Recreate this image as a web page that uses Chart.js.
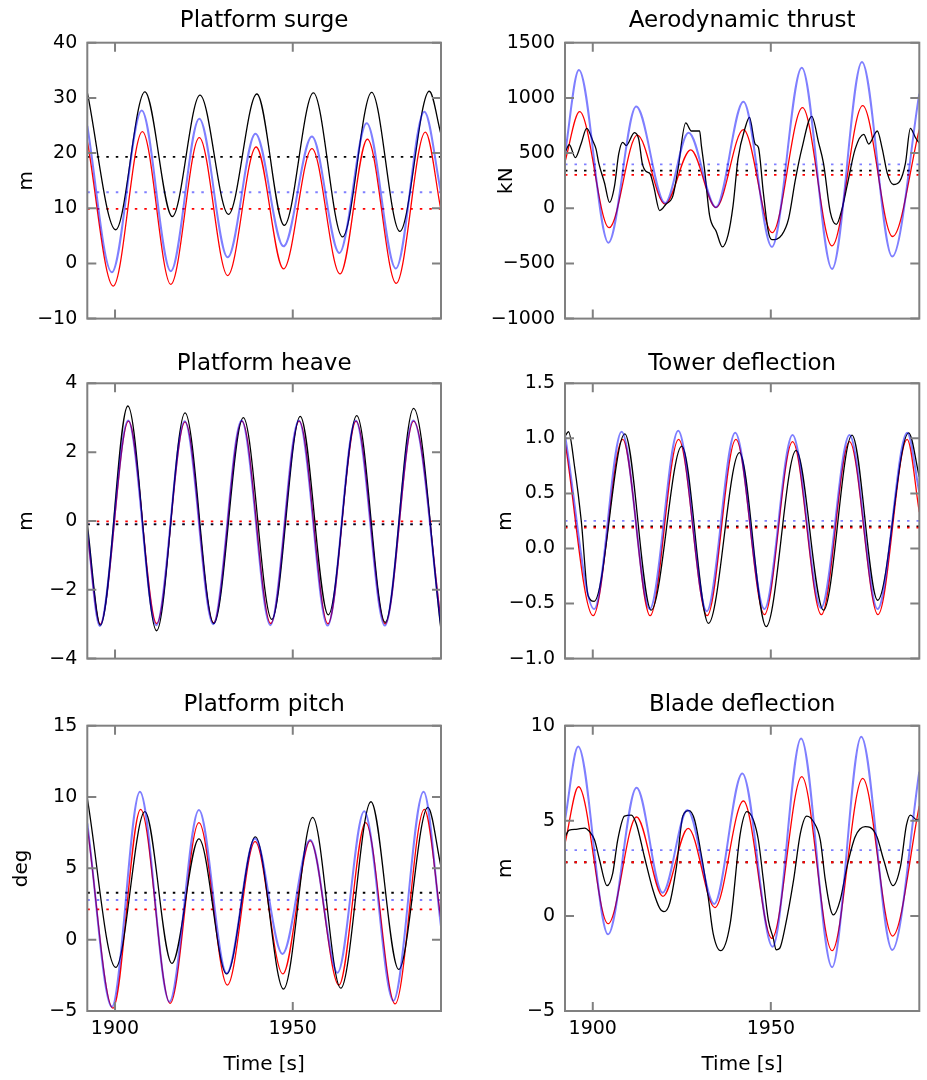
<!DOCTYPE html>
<html>
<head>
<meta charset="utf-8">
<script src="https://cdn.jsdelivr.net/npm/chart.js@4/dist/chart.umd.min.js"></script>
<style>
  body { margin: 0; background: #fff; }
  canvas { position: absolute; }
</style>
</head>
<body>
<script>
// time axis
const xMin = 1892.2, xMax = 1991.7;
const xTicks = [1900, 1950];

// Platform surge [m]
const surgeTicks = [-10, 0, 10, 20, 30, 40];
const surgeBlack = [[1892.2, 31.0], [1900.2, 6.1], [1908.4, 31.1], [1916.1, 8.5], [1923.9, 30.5], [1931.9, 8.9], [1939.9, 30.7], [1947.6, 6.9], [1955.8, 30.9], [1964.0, 4.8], [1972.2, 31.0], [1980.1, 5.8], [1988.4, 31.2], [1991.7, 23.4]];
const surgeRed = [[1892.2, 22.2], [1899.5, -4.1], [1907.7, 23.9], [1915.7, -3.8], [1923.7, 22.8], [1931.7, -2.2], [1939.7, 21.1], [1947.4, -1.0], [1955.4, 20.8], [1963.3, -1.9], [1971.0, 22.5], [1979.1, -3.6], [1987.3, 23.8], [1991.7, 9.6]];
const surgeBlue = [[1892.2, 24.9], [1899.1, -1.6], [1907.5, 27.7], [1915.7, -1.4], [1923.7, 26.2], [1931.7, 1.1], [1939.5, 23.5], [1947.4, 3.1], [1955.4, 23.0], [1963.1, 1.9], [1970.8, 25.4], [1979.0, -0.9], [1987.0, 27.5], [1991.7, 12.8]];
const surgeMeans = [19.3, 9.9, 12.9]; // black, red, blue

// Aerodynamic thrust [kN]
const thrustTicks = [-1000, -500, 0, 500, 1000, 1500];
const thrustBlack = [[1892.2, 500], [1893.4, 576], [1895.1, 459], [1896.7, 582], [1898.3, 723], [1900.0, 612], [1900.9, 538], [1901.7, 406], [1903.3, 229], [1904.7, 53], [1906.1, 200], [1907.3, 494], [1908.4, 597], [1909.4, 568], [1911.7, 685], [1912.9, 626], [1913.9, 406], [1915.0, 332], [1916.1, 312], [1917.1, 200], [1918.8, -21], [1920.6, 38], [1922.5, 112], [1923.9, 347], [1926.1, 773], [1927.7, 700], [1930.0, 700], [1930.5, 568], [1931.4, 347], [1932.8, -65], [1934.7, -212], [1936.4, -350], [1938.0, -241], [1939.4, 24], [1940.8, 450], [1942.8, 729], [1944.0, 823], [1945.6, 582], [1946.5, 553], [1947.9, 141], [1949.3, -212], [1950.3, -285], [1953.1, -241], [1955.0, -94], [1956.9, 259], [1958.7, 538], [1961.5, 832], [1963.4, 597], [1964.8, 406], [1966.7, -35], [1968.4, -147], [1970.0, -6], [1971.4, 200], [1973.7, 538], [1976.1, 670], [1977.5, 582], [1979.9, 700], [1981.3, 538], [1982.7, 318], [1984.4, 215], [1986.2, 244], [1987.8, 406], [1989.2, 723], [1990.6, 641], [1991.7, 590]];
const thrustRed = [[1892.2, 421], [1896.3, 876], [1904.6, -176], [1912.5, 662], [1920.3, 38], [1927.5, 529], [1934.6, 6], [1942.3, 712], [1950.4, -221], [1958.9, 912], [1967.2, -341], [1975.8, 929], [1984.2, -256], [1991.7, 715]];
const thrustBlue = [[1892.2, 494], [1896.1, 1253], [1904.4, -312], [1912.2, 921], [1920.3, 47], [1926.9, 685], [1934.6, 9], [1942.3, 965], [1950.3, -350], [1958.7, 1274], [1967.2, -550], [1975.6, 1324], [1984.1, -438], [1991.7, 1038]];
const thrustMeans = [340, 303, 397];

// Platform heave [m]
const heaveTicks = [-4, -2, 0, 2, 4];
const heaveBlack = [[1892.2, -0.1], [1895.9, -3.03], [1903.6, 3.34], [1911.7, -3.19], [1919.7, 3.14], [1927.8, -2.98], [1936.1, 3.0], [1944.1, -2.86], [1952.1, 3.04], [1960.0, -2.73], [1968.0, 3.06], [1976.0, -2.95], [1984.0, 3.27], [1991.7, -3.17]];
const heaveRed = [[1892.2, -0.36], [1895.8, -3.0], [1903.8, 2.9], [1911.7, -2.98], [1919.7, 2.88], [1927.7, -2.96], [1935.7, 2.9], [1943.8, -2.98], [1951.8, 2.9], [1959.9, -2.99], [1967.8, 2.9], [1976.0, -2.99], [1984.0, 2.9], [1991.7, -2.9]];
const heaveBlue = [[1892.2, -0.3], [1895.7, -3.05], [1903.7, 2.92], [1911.6, -3.03], [1919.6, 2.9], [1927.6, -3.0], [1935.6, 2.92], [1943.7, -3.03], [1951.7, 2.92], [1959.8, -3.04], [1967.7, 2.92], [1975.9, -3.04], [1983.9, 2.92], [1991.7, -3.0]];
const heaveMeans = [-0.1, -0.01, -0.09];

// Tower deflection [m]
const towerTicks = [-1.0, -0.5, 0.0, 0.5, 1.0, 1.5];
const towerBlack = [[1892.2, 1.02], [1893.2, 1.06], [1894.9, 0.74], [1896.8, 0.24], [1898.7, -0.43], [1900.4, -0.48], [1909.0, 1.04], [1916.4, -0.56], [1925.0, 0.93], [1932.5, -0.68], [1941.2, 0.87], [1948.7, -0.71], [1957.1, 0.89], [1964.8, -0.56], [1972.8, 1.03], [1980.0, -0.47], [1988.7, 1.05], [1991.7, 0.65]];
const towerRed = [[1892.2, 0.97], [1900.1, -0.61], [1908.4, 0.99], [1916.1, -0.61], [1924.1, 0.99], [1932.1, -0.61], [1940.2, 0.99], [1948.2, -0.6], [1956.1, 0.97], [1964.2, -0.6], [1972.1, 0.97], [1980.1, -0.6], [1988.3, 0.99], [1991.7, 0.33]];
const towerBlue = [[1892.2, 1.03], [1900.4, -0.55], [1908.1, 1.06], [1916.0, -0.55], [1924.0, 1.07], [1932.0, -0.57], [1940.0, 1.05], [1948.2, -0.55], [1956.1, 1.03], [1964.1, -0.54], [1972.1, 1.03], [1980.0, -0.55], [1988.3, 1.05], [1991.7, 0.51]];
const towerMeans = [0.2, 0.19, 0.25];

// Platform pitch [deg]
const pitchTicks = [-5, 0, 5, 10, 15];
const pitchBlack = [[1892.2, 9.9], [1900.2, -1.94], [1908.4, 8.97], [1916.0, -1.66], [1923.6, 7.06], [1931.4, -2.4], [1939.5, 7.2], [1947.4, -3.46], [1955.6, 8.57], [1963.5, -3.4], [1972.0, 9.67], [1979.8, -2.08], [1988.0, 9.28], [1991.7, 5.1]];
const pitchRed = [[1892.2, 7.9], [1899.4, -4.8], [1907.2, 9.14], [1915.5, -4.46], [1923.6, 8.2], [1931.6, -3.18], [1939.4, 6.87], [1947.2, -2.4], [1954.9, 6.92], [1963.0, -3.18], [1970.5, 8.2], [1978.8, -4.5], [1987.0, 9.14], [1991.7, 1.38]];
const pitchBlue = [[1892.2, 8.15], [1899.1, -4.7], [1907.0, 10.37], [1915.3, -4.35], [1923.6, 9.09], [1931.4, -2.36], [1939.4, 7.1], [1947.1, -1.0], [1954.9, 6.99], [1962.6, -2.31], [1970.1, 9.0], [1978.3, -4.28], [1986.8, 10.37], [1991.7, 0.91]];
const pitchMeans = [3.29, 2.13, 2.78];

// Blade deflection [m]
const bladeTicks = [-5, 0, 5, 10];
const bladeBlack = [[1892.2, 4.16], [1893.4, 4.51], [1895.3, 4.55], [1897.7, 4.62], [1899.1, 4.43], [1900.5, 3.99], [1901.9, 2.94], [1904.0, 1.59], [1905.6, 2.24], [1907.0, 3.99], [1908.9, 5.25], [1910.8, 5.3], [1912.2, 4.86], [1914.5, 3.11], [1916.9, 1.36], [1918.8, 0.4], [1920.0, 0.22], [1921.6, 0.66], [1923.5, 2.59], [1925.3, 5.25], [1927.0, 5.53], [1928.6, 5.04], [1930.4, 3.29], [1932.4, 1.01], [1933.8, -0.92], [1935.9, -1.83], [1938.6, -0.39], [1941.4, 4.3], [1943.3, 5.48], [1945.1, 5.04], [1946.5, 3.99], [1947.9, 1.89], [1949.3, -0.22], [1950.7, -1.18], [1951.5, -1.78], [1952.5, -1.7], [1954.0, -0.6], [1956.4, 1.89], [1958.3, 4.34], [1960.1, 5.25], [1962.0, 4.95], [1963.9, 3.99], [1965.3, 1.89], [1966.7, 0.4], [1967.6, 0.05], [1969.5, 0.84], [1971.4, 2.59], [1973.7, 4.16], [1976.5, 4.69], [1977.9, 4.65], [1979.8, 4.16], [1981.7, 2.94], [1984.3, 1.59], [1986.4, 2.59], [1988.1, 4.78], [1989.2, 5.3], [1991.1, 5.04], [1991.7, 5.1]];
const bladeRed = [[1892.2, 3.8], [1896.0, 6.79], [1904.3, -0.41], [1912.3, 5.2], [1919.7, 1.03], [1926.8, 4.6], [1934.3, 0.44], [1942.3, 6.04], [1950.3, -1.18], [1958.7, 7.32], [1967.2, -1.83], [1975.8, 7.23], [1984.2, -1.06], [1991.7, 5.78]];
const bladeBlue = [[1892.2, 5.04], [1895.9, 8.9], [1904.3, -0.97], [1912.3, 6.74], [1919.6, 1.22], [1926.6, 5.57], [1934.1, 0.63], [1942.0, 7.49], [1950.5, -1.62], [1958.5, 9.33], [1967.2, -2.7], [1975.4, 9.42], [1984.1, -1.79], [1991.7, 7.58]];
const bladeMeans = [2.82, 2.82, 3.46];

const BLACK = '#000000', RED = '#ff0000', BLUE = 'rgba(0,0,255,0.5)';
const FONT = 'DejaVu Sans';

// cell boxes and chart-area offsets
const cols = [{left: 0, width: 460, yW: 87.3, padR: 19}, {left: 460, width: 467, yW: 105, padR: 7.7}];
const rows = [
  {top: 0, height: 340, tPad: {top: 7.5, bottom: 7.6}, xH: 14, labels: false},
  {top: 340, height: 340, tPad: {top: 10.2, bottom: 5.5}, xH: 11.7, labels: false},
  {top: 680, height: 400, tPad: {top: 11.5, bottom: 6.6}, xH: 69, labels: true}
];

const panels = [
  {row: 0, col: 0, title: 'Platform surge', unit: 'm', uPad: 14.4, ticks: surgeTicks, dec: 0, s: [surgeBlack, surgeRed, surgeBlue], m: surgeMeans},
  {row: 0, col: 1, title: 'Aerodynamic thrust', unit: 'kN', uPad: 34.4, ticks: thrustTicks, dec: 0, s: [thrustBlack, thrustRed, thrustBlue], m: thrustMeans},
  {row: 1, col: 0, title: 'Platform heave', unit: 'm', uPad: 14.4, ticks: heaveTicks, dec: 0, s: [heaveBlack, heaveRed, heaveBlue], m: heaveMeans},
  {row: 1, col: 1, title: 'Tower deflection', unit: 'm', uPad: 33.8, ticks: towerTicks, dec: 1, s: [towerBlack, towerRed, towerBlue], m: towerMeans},
  {row: 2, col: 0, title: 'Platform pitch', unit: 'deg', uPad: 10, ticks: pitchTicks, dec: 0, s: [pitchBlack, pitchRed, pitchBlue], m: pitchMeans},
  {row: 2, col: 1, title: 'Blade deflection', unit: 'm', uPad: 33.8, ticks: bladeTicks, dec: 0, s: [bladeBlack, bladeRed, bladeBlue], m: bladeMeans}
];

const fmt = (v, dec) => (v < 0 ? '\u2212' : '') + Math.abs(v).toFixed(dec);

// gray box with inward ticks on all four sides
const frameTicks = {
  id: 'frameTicks',
  afterDatasetsDraw(chart) {
    const {ctx, chartArea: a, scales: {x, y}} = chart;
    const len = 9;
    ctx.save();
    ctx.strokeStyle = '#808080';
    ctx.lineWidth = 2;
    ctx.beginPath();
    x.ticks.forEach(t => {
      const px = x.getPixelForValue(t.value);
      ctx.moveTo(px, a.top); ctx.lineTo(px, a.top + len);
      ctx.moveTo(px, a.bottom); ctx.lineTo(px, a.bottom - len);
    });
    y.ticks.forEach(t => {
      const py = y.getPixelForValue(t.value);
      ctx.moveTo(a.left, py); ctx.lineTo(a.left + len, py);
      ctx.moveTo(a.right, py); ctx.lineTo(a.right - len, py);
    });
    ctx.stroke();
    ctx.strokeRect(a.left, a.top, a.right - a.left, a.bottom - a.top);
    ctx.restore();
  }
};

function line(data, color, width, order) {
  return {data, borderColor: color, borderWidth: width, pointRadius: 0, order,
          cubicInterpolationMode: 'monotone', fill: false};
}
function meanLine(v, color, order) {
  return {data: [[xMin, v], [xMax, v]], borderColor: color, borderWidth: 1.8,
          borderDash: [2.5, 7], pointRadius: 0, order, fill: false};
}

panels.forEach(p => {
  const c = cols[p.col], r = rows[p.row];
  const cv = document.createElement('canvas');
  cv.width = c.width; cv.height = r.height;
  cv.style.left = c.left + 'px'; cv.style.top = r.top + 'px';
  document.body.appendChild(cv);

  new Chart(cv, {
    type: 'line',
    data: {
      datasets: [
        line(p.s[2], BLUE, 2, 1),
        line(p.s[0], BLACK, 1.3, 2),
        line(p.s[1], RED, 1.3, 3),
        meanLine(p.m[1], RED, 4),
        meanLine(p.m[0], BLACK, 5),
        meanLine(p.m[2], BLUE, 6)
      ]
    },
    options: {
      responsive: false,
      animation: false,
      devicePixelRatio: 1,
      events: [],
      layout: {padding: {left: 0, right: c.padR, top: 0, bottom: 0}},
      plugins: {
        legend: {display: false},
        tooltip: {enabled: false},
        title: {display: true, text: p.title, fullSize: false, color: '#000',
                font: {family: FONT, size: 23, weight: 'normal'}, padding: r.tPad}
      },
      scales: {
        x: {
          type: 'linear', min: xMin, max: xMax,
          afterBuildTicks: s => { s.ticks = xTicks.map(v => ({value: v})); },
          afterFit: s => { s.height = r.xH; },
          grid: {display: false, drawTicks: false},
          border: {display: false},
          ticks: {display: r.labels, color: '#000', padding: 7,
                  font: {family: FONT, size: 19}, callback: v => String(v)},
          title: {display: r.labels, text: 'Time [s]', color: '#000',
                  font: {family: FONT, size: 20}, padding: {top: 0, bottom: 3}}
        },
        y: {
          min: p.ticks[0], max: p.ticks[p.ticks.length - 1],
          afterBuildTicks: s => { s.ticks = p.ticks.map(v => ({value: v})); },
          afterFit: s => { s.width = c.yW; },
          grid: {display: false, drawTicks: false},
          border: {display: false},
          ticks: {color: '#000', padding: 10, font: {family: FONT, size: 19},
                  callback: v => fmt(v, p.dec)},
          title: {display: true, text: p.unit, color: '#000',
                  font: {family: FONT, size: 20}, padding: {top: p.uPad, bottom: 0}}
        }
      }
    },
    plugins: [frameTicks]
  });
});
</script>
</body>
</html>
